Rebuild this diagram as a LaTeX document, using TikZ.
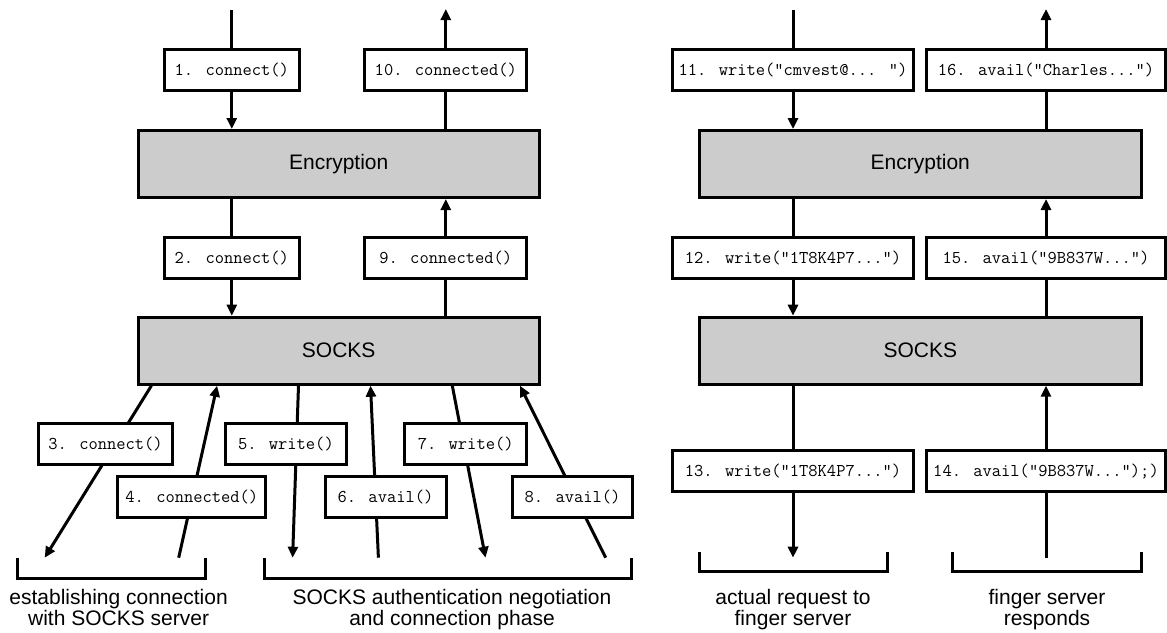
\documentclass[tikz,border=0pt]{standalone}
\usepackage{fontspec}
\newfontfamily\labelsans{Liberation Sans}
\usetikzlibrary{arrows.meta,backgrounds}

\tikzset{
  stroke/.style={line width=3pt},
  layer/.style={stroke, draw, fill=gray!40, minimum height=67pt, inner sep=0pt,
    font=\labelsans\fontsize{21}{21}\selectfont},
  call/.style={stroke, draw, fill=white, minimum height=41pt, inner sep=0pt,
    font=\ttfamily\fontsize{18}{18}\selectfont},
  flow/.style={stroke, -{Triangle[length=11pt,width=10pt]}},
  wire/.style={stroke},
  bracket/.style={stroke, line join=miter},
  caption/.style={font=\labelsans\fontsize{21}{19}\selectfont, align=center,
    anchor=north, inner sep=0pt},
}

\begin{document}
\begin{tikzpicture}[x=1pt, y=-1pt]
\useasboundingbox (0,0) rectangle (1167,632);

% ---------------- connection setup stack ----------------
\node[layer, minimum width=401pt] (encL)   at (338.7,164)   {Encryption};
\node[layer, minimum width=401pt] (socksL) at (338.7,350.7) {SOCKS};

\node[call, minimum width=135pt]   (c1)  at (231.8,70)    {1. connect()};
\node[call, minimum width=161.7pt] (c10) at (445.8,70)    {10. connected()};
\node[call, minimum width=135pt]   (c2)  at (231.8,257.5) {2. connect()};
\node[call, minimum width=161.7pt] (c9)  at (445.8,257.5) {9. connected()};

\node[call, minimum width=134.4pt] (c3) at (105.6,444.3) {3. connect()};
\node[call, minimum width=147.9pt] (c4) at (191.8,497.3) {4. connected()};
\node[call, minimum width=121pt]   (c5) at (285.9,444.3) {5. write()};
\node[call, minimum width=121pt]   (c6) at (385.5,497.3) {6. avail()};
\node[call, minimum width=122pt]   (c7) at (465.7,444.3) {7. write()};
\node[call, minimum width=120.4pt] (c8) at (572.5,497.3) {8. avail()};

\coordinate (in1)   at (231.8,10);
\coordinate (out10) at (445.8,9);
\coordinate (t3) at (44.7,557.7);
\coordinate (s4) at (178.7,557.7);
\coordinate (t5) at (292.6,557.7);
\coordinate (s6) at (378.4,557.7);
\coordinate (t7) at (485.5,557.7);
\coordinate (s8) at (605.7,557.7);

\draw[wire] (in1) -- (c1);
\draw[flow] (c1) -- (c1 |- encL.north);
\draw[wire] (encL.south -| c2) -- (c2);
\draw[flow] (c2) -- (c2 |- socksL.north);
\draw[wire] (socksL.north -| c9) -- (c9);
\draw[flow] (c9) -- (c9 |- encL.south);
\draw[wire] (encL.north -| c10) -- (c10);
\draw[flow] (c10) -- (out10);

% handshake traffic runs behind the call boxes
\begin{pgfonlayer}{background}
\draw[flow] ([xshift=-187.3pt]socksL.south) -- (t3);
\draw[flow] (s4) -- ([xshift=-121.6pt]socksL.south);
\draw[flow] ([xshift=-40.2pt]socksL.south) -- (t5);
\draw[flow] (s6) -- ([xshift=31.8pt]socksL.south);
\draw[flow] ([xshift=113.6pt]socksL.south) -- (t7);
\draw[flow] (s8) -- ([xshift=181.3pt]socksL.south);
\end{pgfonlayer}

\draw[bracket] (17.8,558.3) |- (205.2,578.3) -- (205.2,558.3);
\draw[bracket] (264.9,558.3) |- (631,578.3) -- (631,558.3);

\node[caption] (capA) at (118.6,589.2) {establishing connection\\with SOCKS server};
\node[caption] (capB) at (452,589.2) {SOCKS authentication negotiation\\and connection phase};

% ---------------- finger request stack ----------------
\node[layer, minimum width=441.5pt] (encR)   at (920.3,164)   {Encryption};
\node[layer, minimum width=441.5pt] (socksR) at (920.3,350.7) {SOCKS};

\node[call, minimum width=241pt] (c11) at (793,70)     {11. write("cmvest@... ")};
\node[call, minimum width=239pt] (c16) at (1046,70)    {16. avail("Charles...")};
\node[call, minimum width=241pt] (c12) at (793,257.5)  {12. write("1T8K4P7...")};
\node[call, minimum width=239pt] (c15) at (1046,257.5) {15. avail("9B837W...")};
\node[call, minimum width=241pt] (c13) at (793,471.2)  {13. write("1T8K4P7...")};
\node[call, minimum width=239pt] (c14) at (1046,471.2) {14. avail("9B837W...");)};

\coordinate (in11)  at (793,10);
\coordinate (out16) at (1046,9);
\coordinate (t13)   at (793,557.7);
\coordinate (s14)   at (1046,557.7);

\draw[wire] (in11) -- (c11);
\draw[flow] (c11) -- (c11 |- encR.north);
\draw[wire] (encR.south -| c12) -- (c12);
\draw[flow] (c12) -- (c12 |- socksR.north);
\draw[wire] (socksR.south -| c13) -- (c13);
\draw[flow] (c13) -- (t13);
\draw[wire] (s14) -- (c14);
\draw[flow] (c14) -- (c14 |- socksR.south);
\draw[wire] (socksR.north -| c15) -- (c15);
\draw[flow] (c15) -- (c15 |- encR.south);
\draw[wire] (encR.north -| c16) -- (c16);
\draw[flow] (c16) -- (out16);

\draw[bracket] (699.5,551.7) |- (887,571.7) -- (887,551.7);
\draw[bracket] (952.6,551.7) |- (1141.2,571.7) -- (1141.2,551.7);

\node[caption] (capC) at (793,589.2)  {actual request to\\finger server};
\node[caption] (capD) at (1047,589.2) {finger server\\responds};
\end{tikzpicture}
\end{document}
